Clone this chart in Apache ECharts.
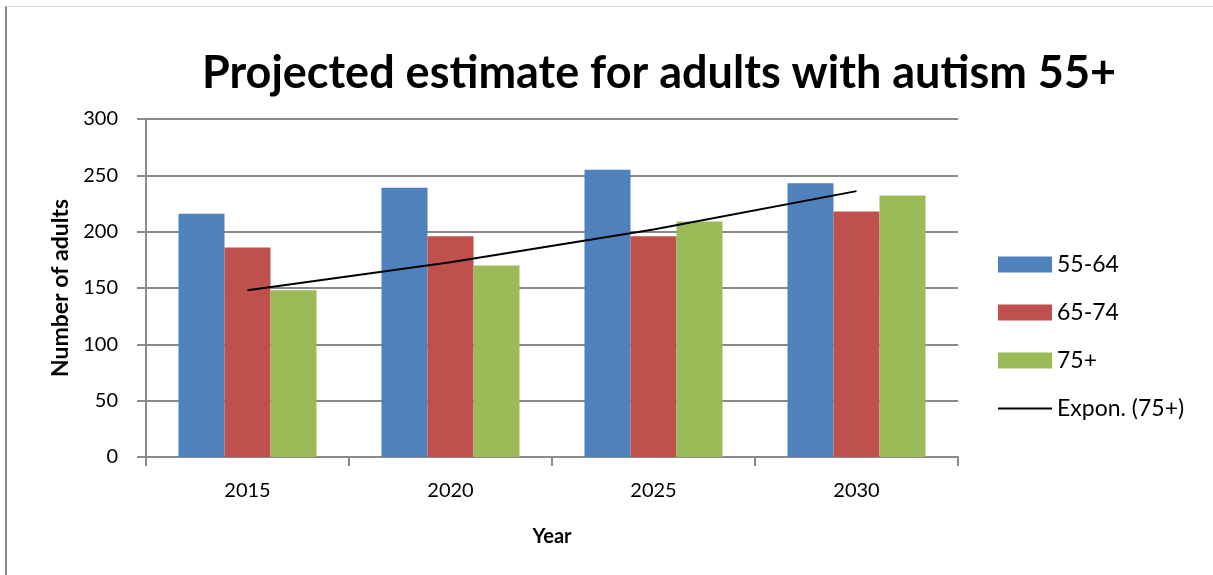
<!DOCTYPE html>
<html>
<head>
<meta charset="utf-8">
<script src="https://cdn.jsdelivr.net/npm/echarts@6/dist/echarts.min.js"></script>
<style>
  html, body { margin: 0; padding: 0; background: #fff; }
  #frame { position: absolute; left: 5px; top: 6px; width: 1208px; height: 569px;
           border-left: 2px solid #888; border-top: 1px solid #ddd; }
  #chart { position: absolute; left: 0; top: 0; width: 1213px; height: 575px; }
</style>
</head>
<body>
<div id="frame"></div>
<div id="chart"></div>
<script>
// data
var years = ['2015', '2020', '2025', '2030'];
var age5564 = [216, 239, 255, 243];
var age6574 = [186, 196, 196, 218];
var age75 = [148, 170, 209, 232];
var yTicks = [0, 50, 100, 150, 200, 250, 300];

// exponential trendline of 75+ (least squares on ln y, x = 1..n), like Excel does
function expTrend(vals) {
  var n = vals.length, sx = 0, sy = 0, sxx = 0, sxy = 0;
  vals.forEach(function (v, i) {
    var x = i + 1, y = Math.log(v);
    sx += x; sy += y; sxx += x * x; sxy += x * y;
  });
  var b = (n * sxy - sx * sy) / (n * sxx - sx * sx);
  var a = (sy - b * sx) / n;
  return vals.map(function (v, i) { return +(Math.exp(a + b * (i + 1))).toFixed(2); });
}
var trend75 = expTrend(age75);

var font = 'Lato, "Open Sans", sans-serif';
var gridColor = '#8a8a8a';

var chart = echarts.init(document.getElementById('chart'));
chart.setOption({
  animation: false,
  textStyle: { fontFamily: font, color: '#000' },
  title: {
    text: 'Projected estimate for adults with autism 55+',
    left: 654, top: 46, textAlign: 'center',
    textStyle: { fontFamily: font, fontSize: 45, fontWeight: 'bold', color: '#000' }
  },
  legend: {
    orient: 'vertical',
    left: 998, top: 253, padding: 0,
    itemWidth: 54, itemHeight: 16, itemGap: 25,
    textStyle: { fontFamily: font, fontSize: 23, color: '#000' },
    data: [
      { name: '55-64', icon: 'rect' },
      { name: '65-74', icon: 'rect' },
      { name: '75+', icon: 'rect' },
      { name: 'Expon. (75+)', icon: 'path://M0,0 H50 V2 H0 Z' }
    ]
  },
  grid: { left: 146, right: 255, top: 119, bottom: 118 },
  xAxis: {
    type: 'category',
    data: years,
    name: 'Year',
    nameLocation: 'middle',
    nameGap: 70,
    nameTextStyle: { fontFamily: font, fontSize: 20, fontWeight: 'bold', color: '#000' },
    axisLine: { lineStyle: { color: gridColor, width: 2 } },
    axisTick: { show: true, length: 9, lineStyle: { color: gridColor, width: 2 } },
    axisLabel: { margin: 24, fontSize: 20, color: '#000', fontFamily: font }
  },
  yAxis: {
    type: 'value',
    min: yTicks[0], max: yTicks[yTicks.length - 1], interval: yTicks[1] - yTicks[0],
    name: 'Number of adults',
    nameLocation: 'middle',
    nameGap: 74,
    nameTextStyle: { fontFamily: font, fontSize: 23, fontWeight: 'bold', color: '#000' },
    axisLine: { show: true, lineStyle: { color: gridColor, width: 2 } },
    axisTick: { show: true, length: 9, lineStyle: { color: gridColor, width: 2 } },
    axisLabel: { margin: 28, fontSize: 20, color: '#000', fontFamily: font },
    splitLine: { lineStyle: { color: gridColor, width: 2 } }
  },
  series: [
    { name: '55-64', type: 'bar', data: age5564, barGap: 0, barCategoryGap: '32%',
      itemStyle: { color: '#4F81BD' } },
    { name: '65-74', type: 'bar', data: age6574, itemStyle: { color: '#C0504D' } },
    { name: '75+', type: 'bar', data: age75, itemStyle: { color: '#9BBB59' } },
    { name: 'Expon. (75+)', type: 'line', data: trend75, symbol: 'none',
      lineStyle: { color: '#000', width: 2 }, itemStyle: { color: '#000' }, z: 5 }
  ]
});
</script>
</body>
</html>
